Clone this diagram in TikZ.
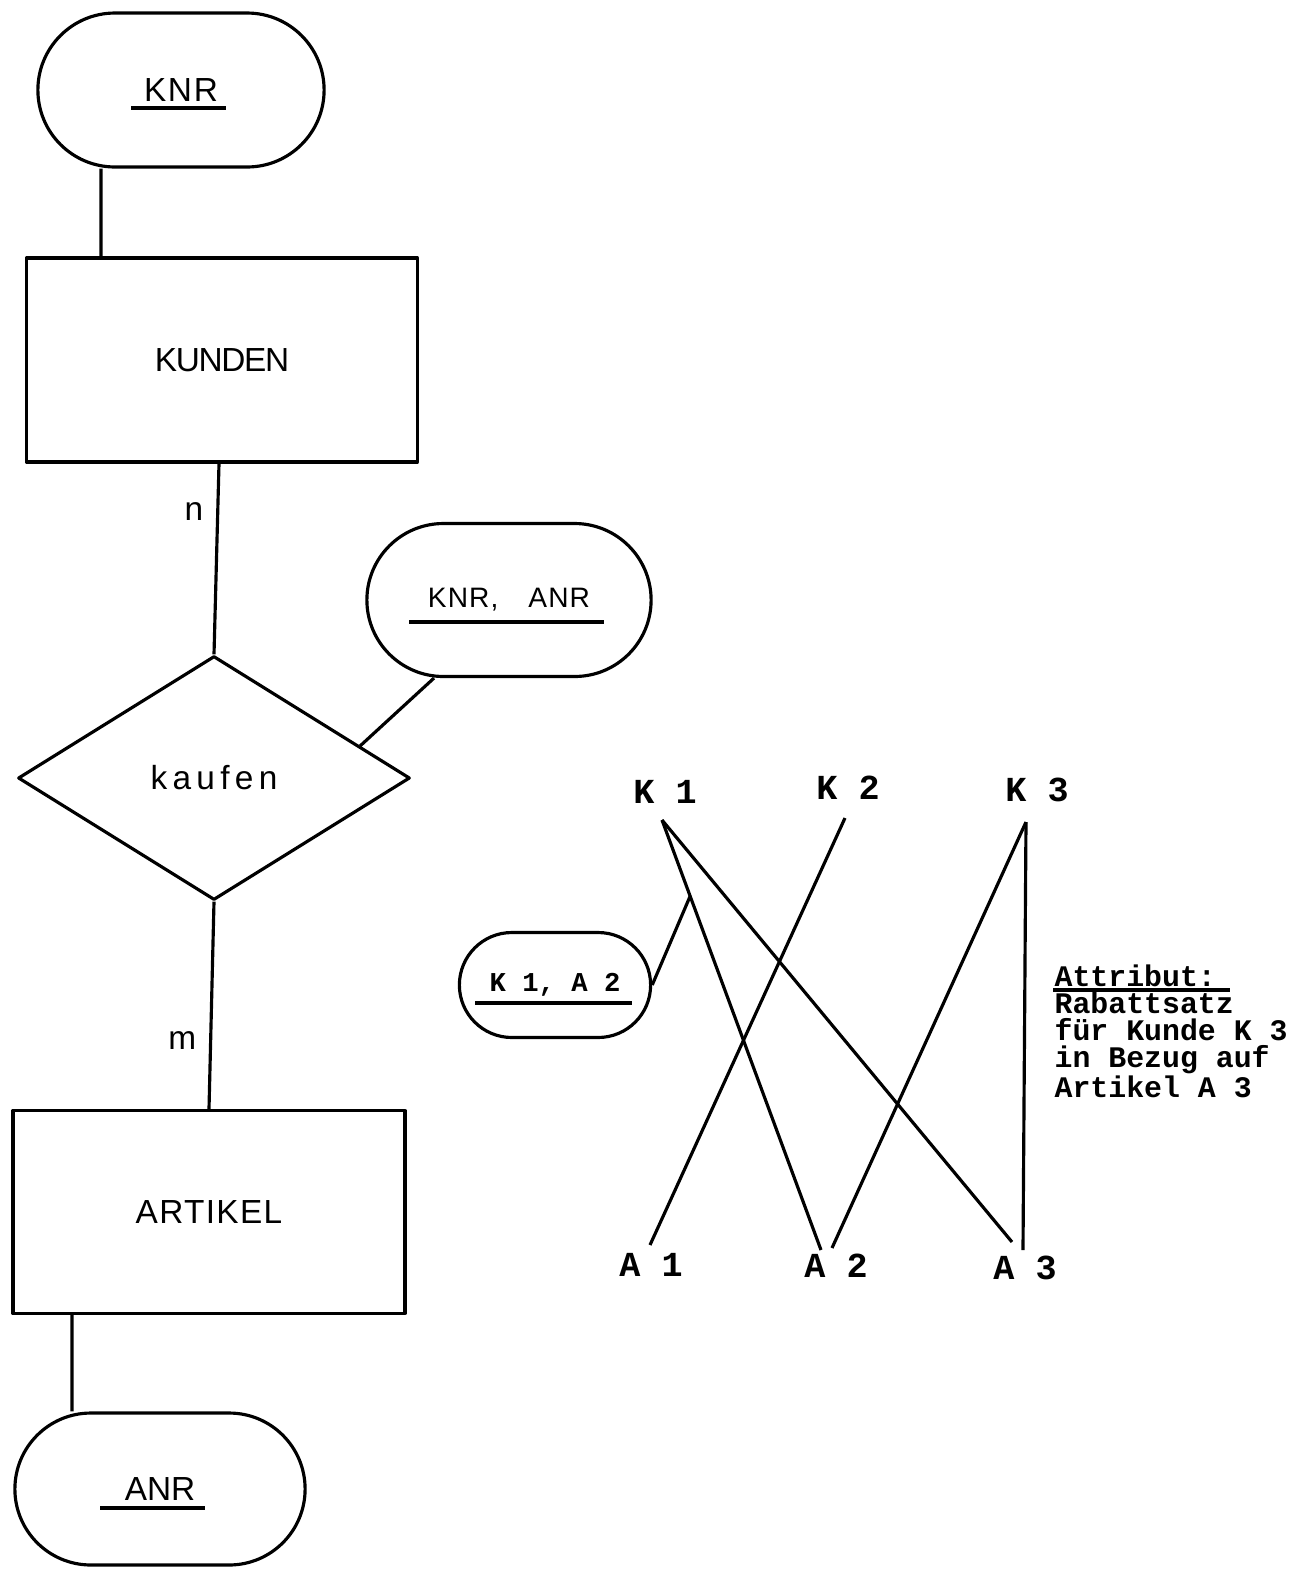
\documentclass[tikz,border=0pt]{standalone}
\usepackage{fontspec}
\setmainfont{Liberation Sans}
\newfontfamily\plotmono{Liberation Mono}
\usetikzlibrary{shapes.geometric,shapes.misc,calc}

\begin{document}
\begin{tikzpicture}[
  x=0.02cm, y=-0.02cm,
  line width=1.8pt, line join=round,
  every node/.style={font=\fontsize{19}{22}\selectfont},
  entity/.style={rectangle,draw,minimum width=7.84cm,minimum height=4.06cm},
  keyfield/.style={rounded rectangle,draw,minimum width=6cm,minimum height=3.06cm},
  relation/.style={diamond,draw,inner sep=0pt,minimum width=7.84cm,minimum height=4.88cm},
  inst/.style={inner sep=0pt,font=\plotmono\bfseries\fontsize{20}{24}\selectfont},
  card/.style={pos=#1,left=4pt}
]
  \useasboundingbox (0,0) rectangle (1300,1570);

  % ER-Diagramm
  \node[keyfield,minimum width=5.96cm,minimum height=3.08cm] (knr) at (181,90) {\addfontfeature{LetterSpace=5}KNR};
  \node[entity,minimum width=7.82cm,minimum height=4.08cm] (kunden) at (222,360) {\addfontfeature{LetterSpace=-4}KUNDEN};
  \node[relation] (kaufen) at (214,778) {\addfontfeature{LetterSpace=16}kaufen};
  \node[keyfield,minimum width=5.92cm,font=\fontsize{16}{19}\selectfont] (knranr) at (509,600) {\addfontfeature{LetterSpace=4}KNR,\hspace{0.6cm}ANR};
  \node[entity] (artikel) at (209,1212) {\addfontfeature{LetterSpace=4}ARTIKEL};
  \node[keyfield,minimum width=6.04cm,minimum height=3.04cm] (anr) at (160,1489) {ANR};

  \draw ([xshift=-1.6cm]knr.south) -- ([xshift=-2.42cm]kunden.north);
  \draw ([xshift=-0.06cm]kunden.south) -- node[card=0.25] {n} (kaufen.north);
  \draw (kaufen.south) -- node[card=0.67] {m} (artikel.north);
  \draw ([xshift=-2.74cm]artikel.south) -- ([xshift=-1.76cm]anr.north);
  \draw ($(kaufen.north)!0.74!(kaufen.east)$) -- ([xshift=-1.5cm]knranr.south);

  % Schluessel unterstrichen
  \draw ([shift={(-50,18)}]knr.center) -- ([shift={(45,18)}]knr.center);
  \draw ([shift={(-100,22)}]knranr.center) -- ([shift={(95,22)}]knranr.center);
  \draw ([shift={(-60,19)}]anr.center) -- ([shift={(45,19)}]anr.center);

  % Beziehungen zwischen Kunden und Artikeln
  \node[inst] (k1) at (665,792) {K 1};
  \node[inst] (k2) at (848,788) {K 2};
  \node[inst] (k3) at (1037,790) {K 3};
  \node[inst] (a1) at (651,1265) {A 1};
  \node[inst] (a2) at (836,1266) {A 2};
  \node[inst] (a3) at (1025,1268) {A 3};

  \coordinate (k1-pin) at ([shift={(-3,28)}]k1.center);
  \coordinate (k2-pin) at ([shift={(-3,30)}]k2.center);
  \coordinate (k3-pin) at ([shift={(-11,32)}]k3.center);
  \coordinate (a1-pin) at ([shift={(-1,-20)}]a1.center);
  \coordinate (a2-pin-l) at ([shift={(-15,-16)}]a2.center);
  \coordinate (a2-pin-r) at ([shift={(-4,-18)}]a2.center);
  \coordinate (a3-pin-l) at ([shift={(-13,-26)}]a3.center);
  \coordinate (a3-pin-r) at ([shift={(-2,-18)}]a3.center);

  \draw (k1-pin) -- (a2-pin-l);
  \draw (k1-pin) -- (a3-pin-l);
  \draw (k2-pin) -- (a1-pin);
  \draw (k3-pin) -- (a2-pin-r);
  \draw (k3-pin) -- (a3-pin-r);

  \node[keyfield,minimum width=4.06cm,minimum height=2.1cm,font=\plotmono\bfseries\fontsize{15.5}{18}\selectfont] (k1a2) at (555,985) {K 1, A 2};
  \draw ([shift={(-80,18)}]k1a2.center) -- ([shift={(77,18)}]k1a2.center);
  \draw (k1a2.east) -- ($(k1-pin)!0.177!(a2-pin-l)$);

  \node[inst,font=\plotmono\bfseries\fontsize{17}{15.5}\selectfont,align=left,anchor=north west] (attr) at (1053,963)
    {Attribut:\\Rabattsatz\\für Kunde K 3\\in Bezug auf\\Artikel A 3};
  \draw ([shift={(0,27)}]attr.north west) -- ([shift={(177,27)}]attr.north west);
\end{tikzpicture}
\end{document}
